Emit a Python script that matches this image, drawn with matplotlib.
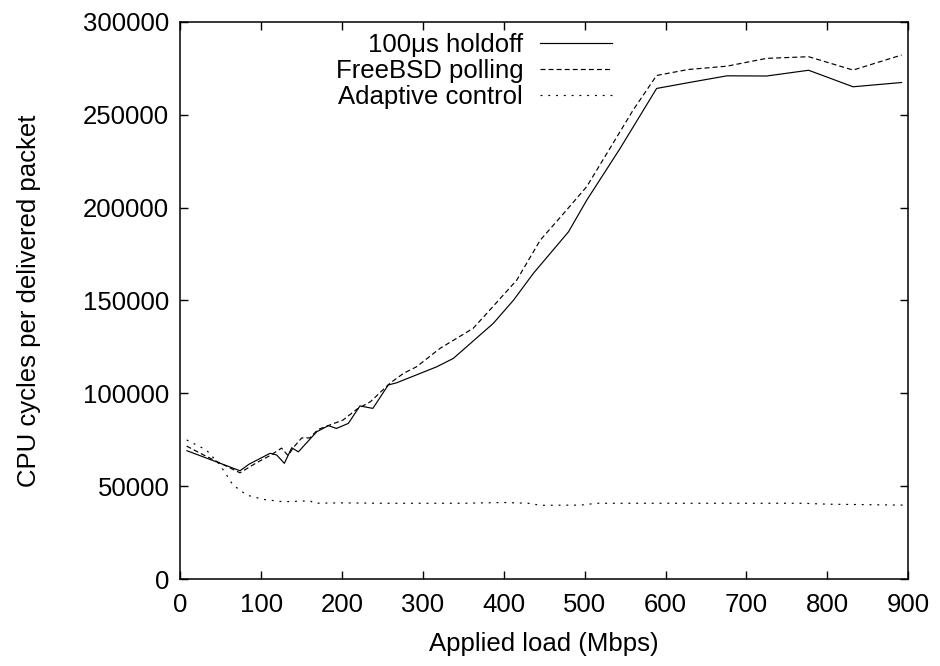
import matplotlib
matplotlib.use("Agg")
import matplotlib.pyplot as plt

plt.rcParams['font.family'] = ['Liberation Sans', 'DejaVu Sans']
plt.rcParams['lines.scale_dashes'] = False

# Data (Mbps, CPU cycles per delivered packet)
holdoff_x = [8, 73.6, 84.7, 110.8, 119, 128.5, 137.6, 145.8, 168.5, 183, 193, 207.6, 222, 238,
             257, 267.5, 317, 337.5, 387, 412, 436.5, 480, 502.5, 543.8, 589, 628, 676, 725,
             777, 832, 892]
holdoff_y = [69100, 58300, 61800, 67700, 66800, 62300, 70700, 68500, 79300, 82600, 81100, 83800,
             93200, 91900, 104500, 105700, 114300, 118800, 137700, 150200, 164600, 187000,
             204000, 231900, 264200, 267300, 271000, 270900, 274000, 265100, 267400]

polling_x = [7.6, 30, 73.6, 94, 110.8, 125, 133, 141, 150, 160, 170, 185, 201, 218, 235, 259,
             276, 292, 321, 362, 379, 416, 445, 474, 502.5, 560, 589, 628, 676, 725, 777, 832, 892]
polling_y = [71600, 66500, 57200, 62600, 66500, 70500, 66500, 71500, 76000, 76000, 80500, 83000,
             85600, 91400, 95500, 105400, 110800, 114300, 124200, 135000, 143100, 161000,
             182500, 196900, 211300, 252600, 271200, 274400, 276200, 280400, 281300, 274100,
             282200]

adaptive_x = [7.7, 32, 49, 65, 82, 102.5, 127, 152, 161, 165, 200, 250, 300, 350, 400, 430, 445,
              495, 515, 600, 700, 770, 800, 896]
adaptive_y = [74900, 69500, 61400, 50600, 45200, 42900, 41600, 42000, 42000, 40800, 41000, 40800,
              40800, 40800, 41200, 40800, 39700, 39800, 40800, 40800, 40800, 40800, 40300, 39800]

labels = ["100\u03bcs holdoff", "FreeBSD polling", "Adaptive control"]
x_ticks = [0, 100, 200, 300, 400, 500, 600, 700, 800, 900]
y_ticks = [0, 50000, 100000, 150000, 200000, 250000, 300000]

fig = plt.figure(figsize=(9.4, 6.66), dpi=100)
ax = fig.add_axes([0.192, 0.1306, 0.774, 0.8364])

lw = 0.85
ax.plot(holdoff_x, holdoff_y, color='black', lw=lw, label=labels[0])
ax.plot(polling_x, polling_y, color='black', lw=lw, dashes=(3.6, 2.2), label=labels[1])
ax.plot(adaptive_x, adaptive_y, color='black', lw=lw, dashes=(1.4, 4.2), label=labels[2])

ax.set_xlim(0, 900)
ax.set_ylim(0, 300000)
ax.set_xticks(x_ticks)
ax.set_yticks(y_ticks)
ax.set_xticklabels([str(v) for v in x_ticks])
ax.set_yticklabels([str(v) for v in y_ticks])
ax.tick_params(direction='in', length=6, width=1, top=True, right=True, labelsize=18.5)
ax.tick_params(axis='x', pad=10)
ax.tick_params(axis='y', pad=8)
for s in ax.spines.values():
    s.set_linewidth(1.1)

ax.set_xlabel("Applied load (Mbps)", fontsize=18.5, labelpad=11)
ax.set_ylabel("CPU cycles per delivered packet", fontsize=18.5, labelpad=30)

leg = ax.legend(loc='upper right', bbox_to_anchor=(0.618, 1.012), frameon=False,
                markerfirst=False, fontsize=18.5, handlelength=2.8, handletextpad=0.66,
                labelspacing=0.07, borderaxespad=0.3)
for t in leg.get_texts():
    t.set_ha('right')

fig.savefig("out.png", dpi=100)
